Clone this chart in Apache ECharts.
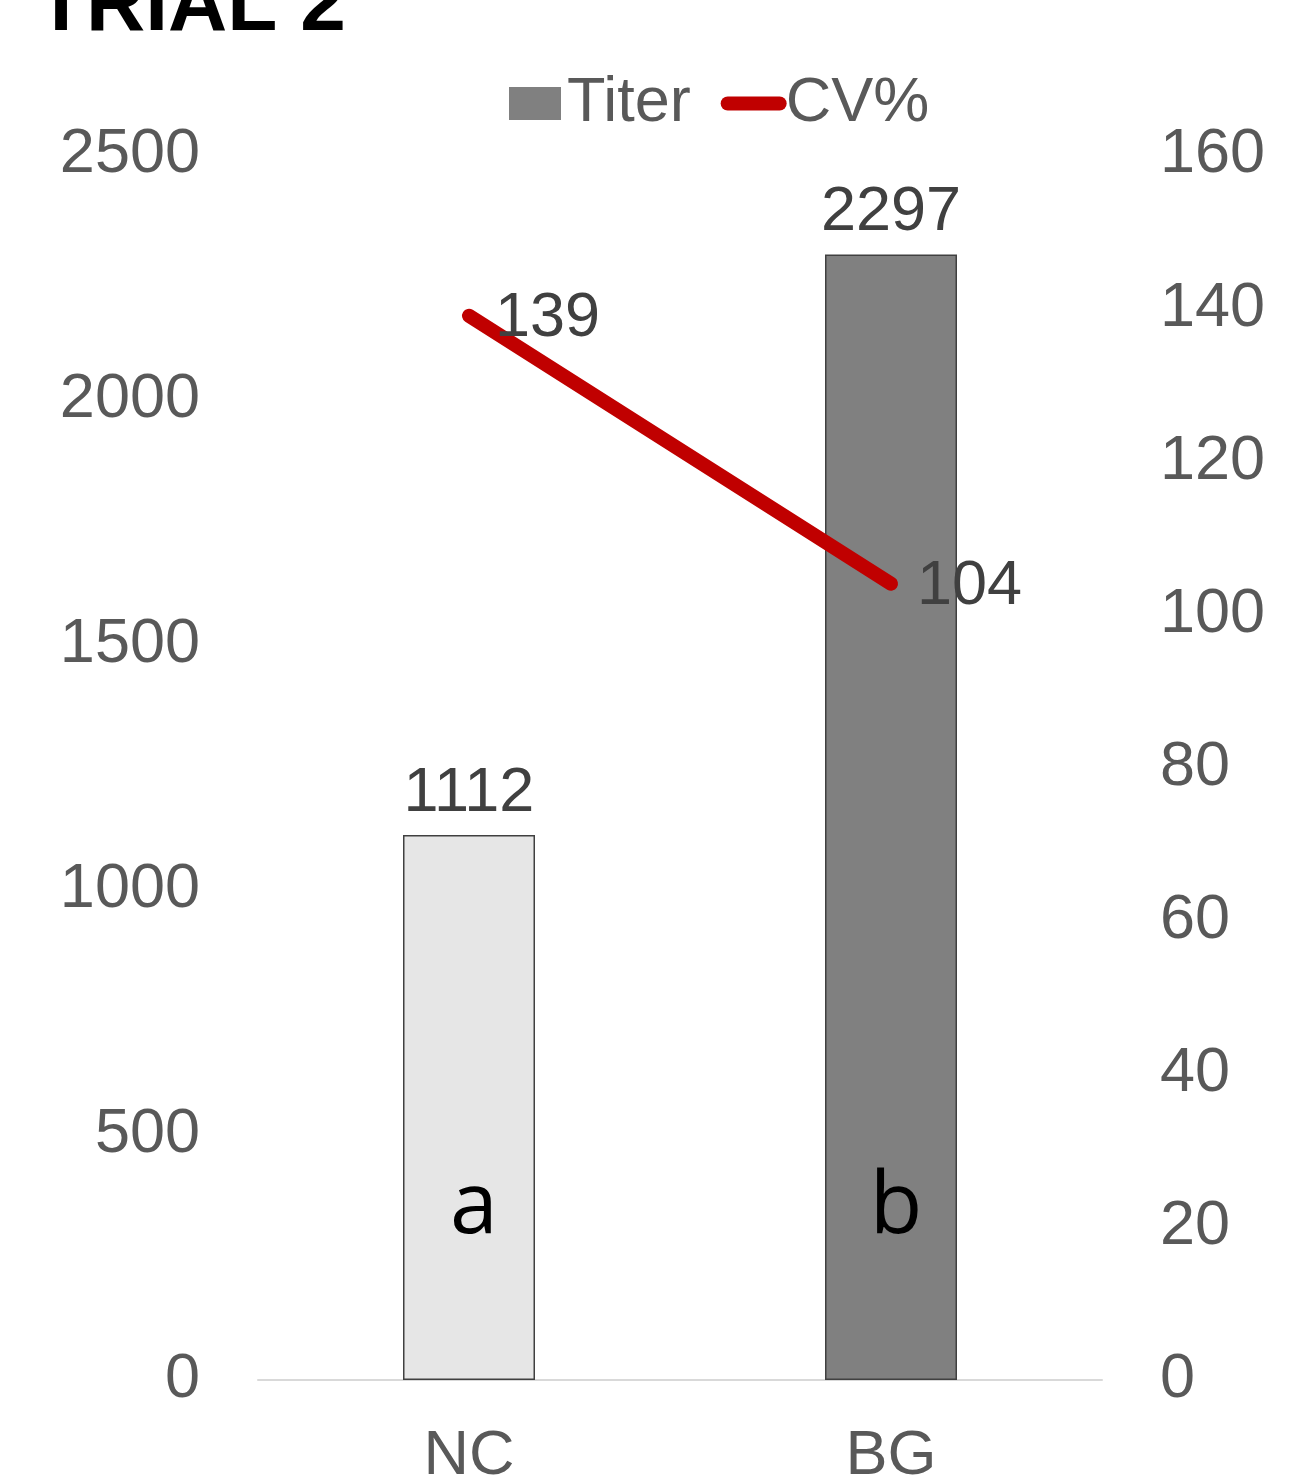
<!DOCTYPE html>
<html>
<head>
<meta charset="utf-8">
<script src="https://cdn.jsdelivr.net/npm/echarts@6/dist/echarts.min.js"></script>
<style>
  html, body { margin: 0; padding: 0; background: #ffffff; }
  #chart { width: 1291px; height: 1483px; }
</style>
</head>
<body>
<div id="chart"></div>
<script>
// Treatment groups
const categories = ['NC', 'BG'];
// Mean titer per group (left axis)
const titerValues = [1112, 2297];
// Coefficient of variation, % (right axis)
const cvValues = [139, 104];
// Significance letters shown inside each bar
const sigLetters = ['a', 'b'];
// Fill colour per group bar
const barColors = ['#e6e6e6', '#808080'];
// Axis tick values
const leftTicks = [0, 500, 1000, 1500, 2000, 2500];
const rightTicks = [0, 20, 40, 60, 80, 100, 120, 140, 160];

const FONT = '"Liberation Sans", Arial, sans-serif';
const AXIS_GREY = '#595959';
const LABEL_DARK = '#404040';
const CV_RED = '#c00000';
const FS = 63;

const chart = echarts.init(document.getElementById('chart'), null, { renderer: 'canvas' });

const option = {
  animation: false,
  backgroundColor: '#ffffff',
  title: {
    text: 'TRIAL 2',
    left: 31,
    top: -39,
    textStyle: { fontFamily: FONT, fontSize: 82, fontWeight: 'bold', color: '#000000' }
  },
  legend: {
    top: 67,
    left: 504,
    itemGap: 30,
    itemWidth: 52,
    itemHeight: 33,
    textStyle: { fontFamily: FONT, fontSize: FS, color: AXIS_GREY, padding: [0, 0, 0, 1] },
    data: [
      { name: 'Titer', icon: 'rect', itemStyle: { color: '#808080', borderWidth: 0 } },
      {
        name: 'CV%',
        itemStyle: { color: 'rgba(0,0,0,0)', borderWidth: 0 },
        lineStyle: { color: CV_RED, width: 14, cap: 'round' }
      }
    ]
  },
  grid: { left: 258, right: 189, top: 155, bottom: 103, outerBoundsMode: 'none', containLabel: false },
  xAxis: {
    type: 'category',
    data: categories,
    axisLine: { show: true, lineStyle: { color: '#d9d9d9', width: 2 } },
    axisTick: { show: false },
    axisLabel: { fontFamily: FONT, fontSize: FS, color: AXIS_GREY, margin: 45 }
  },
  yAxis: [
    {
      type: 'value',
      min: leftTicks[0],
      max: leftTicks[leftTicks.length - 1],
      interval: leftTicks[1] - leftTicks[0],
      axisLine: { show: false },
      axisTick: { show: false },
      splitLine: { show: false },
      axisLabel: { fontFamily: FONT, fontSize: FS, color: AXIS_GREY, margin: 58, formatter: v => String(v) }
    },
    {
      type: 'value',
      min: rightTicks[0],
      max: rightTicks[rightTicks.length - 1],
      interval: rightTicks[1] - rightTicks[0],
      position: 'right',
      axisLine: { show: false },
      axisTick: { show: false },
      splitLine: { show: false },
      axisLabel: { fontFamily: FONT, fontSize: FS, color: AXIS_GREY, margin: 58, formatter: v => String(v) }
    }
  ],
  series: [
    {
      name: 'Titer',
      type: 'bar',
      yAxisIndex: 0,
      barWidth: 132,
      itemStyle: { color: '#808080', borderColor: LABEL_DARK, borderWidth: 1.5 },
      data: titerValues.map((v, i) => ({ value: v, itemStyle: { color: barColors[i] } })),
      label: {
        show: true,
        position: 'top',
        distance: 10,
        fontFamily: FONT,
        fontSize: FS,
        color: LABEL_DARK
      },
      z: 2
    },
    {
      // transparent overlay carrying the significance letters
      name: 'letters',
      type: 'bar',
      yAxisIndex: 0,
      barWidth: 132,
      barGap: '-100%',
      silent: true,
      itemStyle: { color: 'transparent' },
      data: titerValues,
      label: {
        show: true,
        position: 'insideBottom',
        distance: 129,
        offset: [5, 0],
        formatter: p => sigLetters[p.dataIndex],
        fontFamily: '"Open Sans", "Noto Sans", sans-serif',
        fontSize: 86,
        color: '#000000'
      },
      z: 3
    },
    {
      name: 'CV%',
      type: 'line',
      yAxisIndex: 1,
      data: cvValues,
      symbol: 'none',
      color: CV_RED,
      lineStyle: { color: CV_RED, width: 14, cap: 'round' },
      z: 5
    },
    {
      // value labels for the CV% line
      name: 'cvLabels',
      type: 'scatter',
      yAxisIndex: 1,
      data: cvValues,
      symbolSize: 0,
      silent: true,
      itemStyle: { opacity: 1, color: CV_RED },
      label: {
        show: true,
        position: 'right',
        distance: 26,
        offset: [0, 3],
        fontFamily: FONT,
        fontSize: FS,
        color: LABEL_DARK
      },
      z: 6
    }
  ]
};

chart.setOption(option);
</script>
</body>
</html>
